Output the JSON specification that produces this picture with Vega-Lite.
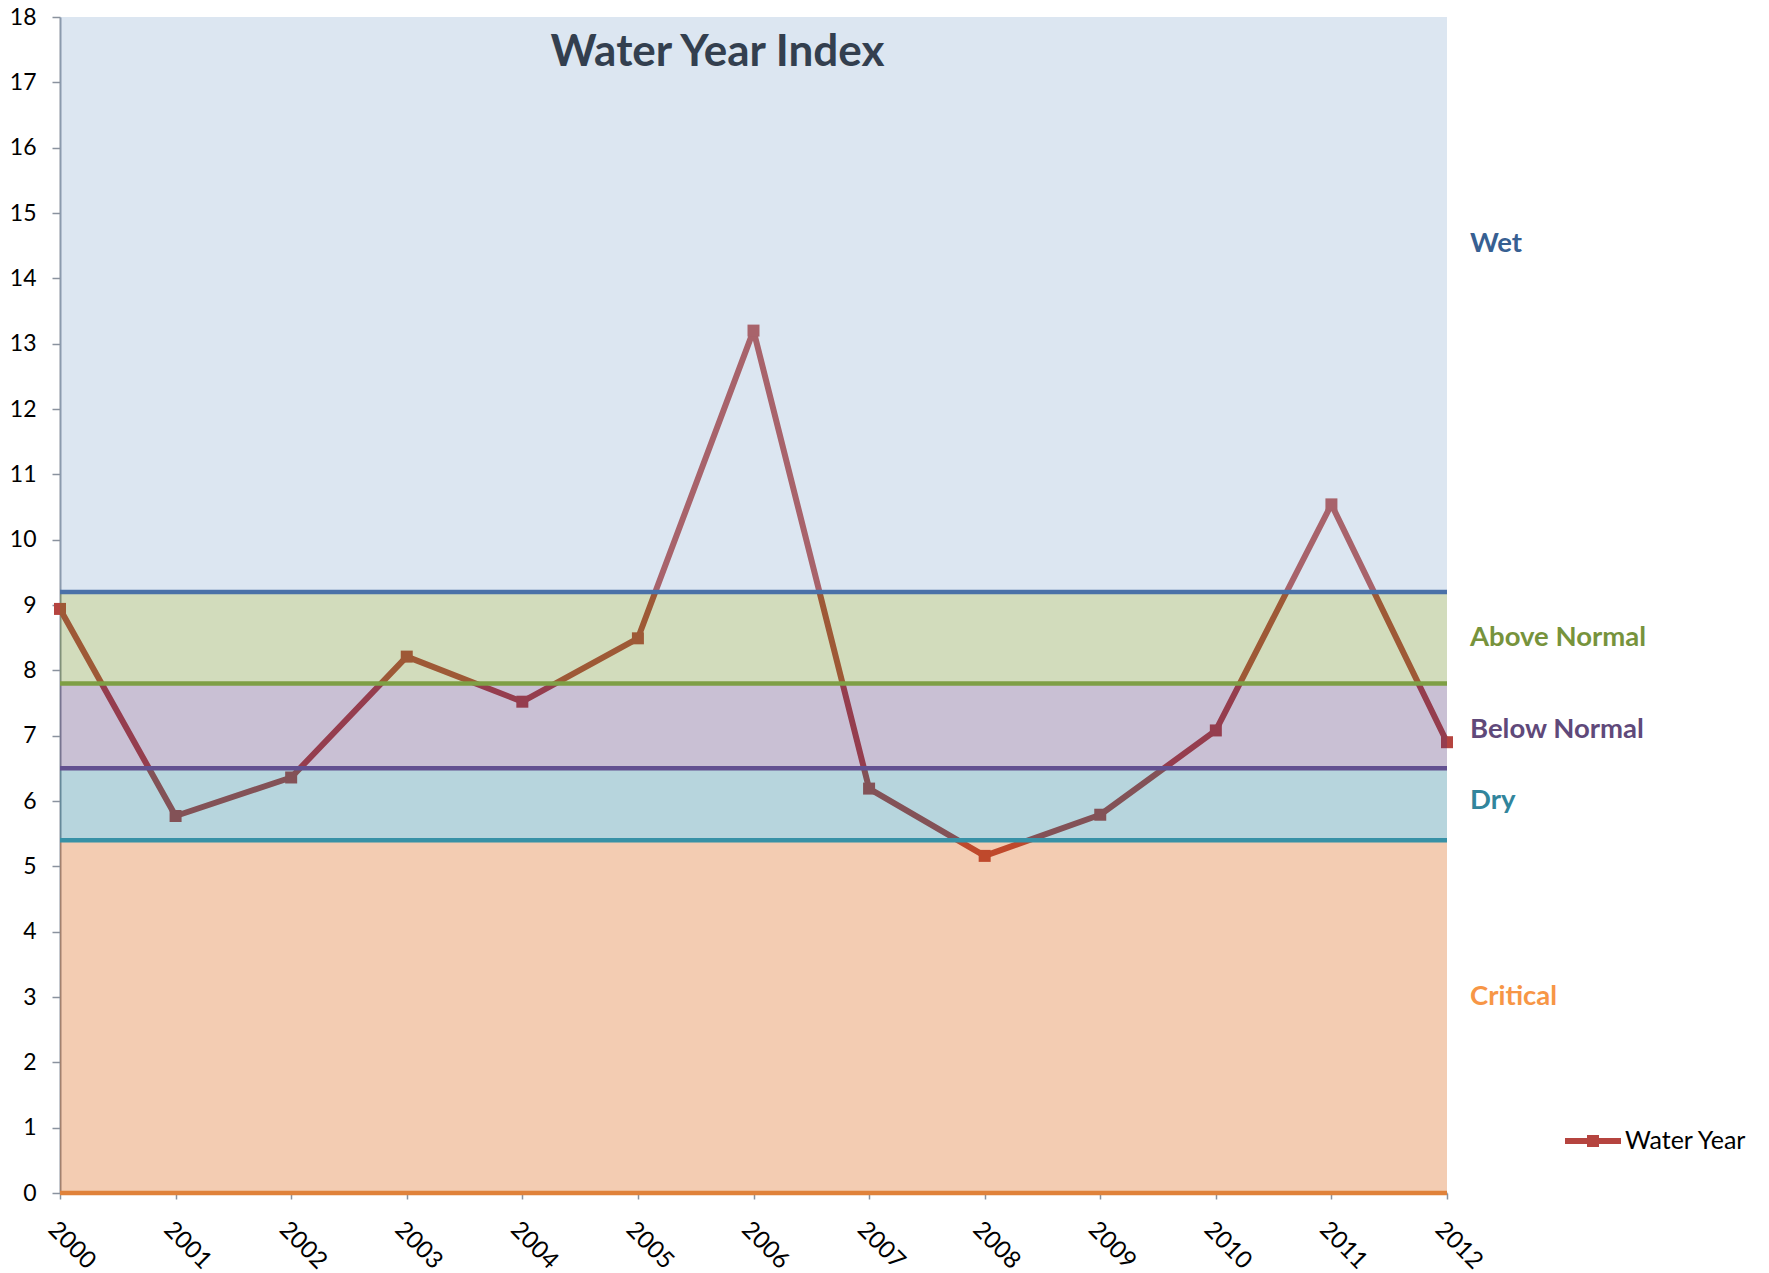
{
  "$schema": "https://vega.github.io/schema/vega-lite/v6.json",
  "width": 1387,
  "height": 1176,
  "autosize": {"type": "none"},
  "padding": {"left": 60, "top": 17, "right": 322, "bottom": 80},
  "background": "white",
  "config": {
    "font": "Lato",
    "view": {"stroke": null},
    "axisY": {"domainColor": "#8A929E", "domainWidth": 2, "tickColor": "#8A929E", "tickSize": 8, "tickWidth": 1.5, "labelFontSize": 23, "labelFont": "Lato", "labelPadding": 16, "labelColor": "#000000", "grid": false},
    "axisX": {"domainColor": "#8A929E", "domainWidth": 2, "tickColor": "#8A929E", "tickSize": 6, "tickWidth": 1.5, "labelFontSize": 24, "labelFont": "Lato", "labelAngle": 45, "labelAlign": "left", "labelBaseline": "top", "labelPadding": 18, "labelColor": "#000000", "grid": false}
  },
  "title": {"text": "Water Year Index", "fontSize": 44, "fontWeight": "bold", "font": "Lato", "color": "#333F4F", "anchor": "middle", "frame": "group", "dx": -36, "baseline": "alphabetic", "offset": -104},
  "datasets": {
    "series": [
      {"year": 2000, "index": 8.94},
      {"year": 2001, "index": 5.77},
      {"year": 2002, "index": 6.36},
      {"year": 2003, "index": 8.21},
      {"year": 2004, "index": 7.52},
      {"year": 2005, "index": 8.49},
      {"year": 2006, "index": 13.2},
      {"year": 2007, "index": 6.19},
      {"year": 2008, "index": 5.16},
      {"year": 2009, "index": 5.79},
      {"year": 2010, "index": 7.08},
      {"year": 2011, "index": 10.54},
      {"year": 2012, "index": 6.9}
    ],
    "bands": [
      {"name": "Wet", "lo": 9.2, "hi": 18, "labelAt": 14.4},
      {"name": "Above Normal", "lo": 7.8, "hi": 9.2, "labelAt": 8.38},
      {"name": "Below Normal", "lo": 6.5, "hi": 7.8, "labelAt": 6.97},
      {"name": "Dry", "lo": 5.4, "hi": 6.5, "labelAt": 5.87},
      {"name": "Critical", "lo": 0, "hi": 5.4, "labelAt": 2.88}
    ]
  },
  "layer": [
    {
      "data": {"name": "series"},
      "mark": {"type": "line", "strokeWidth": 6, "strokeJoin": "round"},
      "encoding": {
        "x": {"field": "year", "type": "quantitative", "scale": {"domain": [2000, 2012], "nice": false, "zero": false}, "axis": {"values": [2000, 2001, 2002, 2003, 2004, 2005, 2006, 2007, 2008, 2009, 2010, 2011, 2012], "format": "d"}, "title": null},
        "y": {"field": "index", "type": "quantitative", "scale": {"domain": [0, 18], "nice": false}, "axis": {"values": [0, 1, 2, 3, 4, 5, 6, 7, 8, 9, 10, 11, 12, 13, 14, 15, 16, 17, 18], "format": "d"}, "title": null},
        "color": {
          "datum": "Water Year", "type": "nominal",
          "scale": {"range": ["#B5443F"]},
          "legend": {
            "title": null, "orient": "none", "legendX": 1505, "legendY": 1096, "padding": 0,
            "symbolType": "M-1,-0.107H1V0.107H-1ZM-0.214,-0.214H0.214V0.214H-0.214Z",
            "symbolSize": 3136, "labelFontSize": 25, "labelFont": "Lato", "labelColor": "#000000", "labelOffset": 4,
            "encode": {"symbols": {"update": {"fill": {"value": "#B5443F"}, "stroke": {"value": "#B5443F"}, "strokeWidth": {"value": 0}, "opacity": {"value": 1}}}}
          }
        }
      }
    },
    {
      "data": {"name": "series"},
      "mark": {"type": "point", "shape": "square", "filled": true, "size": 144, "color": "#B5443F", "opacity": 1},
      "encoding": {
        "x": {"field": "year", "type": "quantitative", "title": null},
        "y": {"field": "index", "type": "quantitative", "title": null}
      }
    },
    {
      "data": {"name": "bands"},
      "mark": {"type": "rect", "fillOpacity": 0.3},
      "encoding": {
        "x": {"datum": 2000, "type": "quantitative", "title": null},
        "x2": {"datum": 2012},
        "y": {"field": "lo", "type": "quantitative", "title": null},
        "y2": {"field": "hi"},
        "fill": {"field": "name", "type": "nominal", "legend": null,
          "scale": {"domain": ["Wet", "Above Normal", "Below Normal", "Dry", "Critical"], "range": ["#8AACD0", "#698A20", "#4B3070", "#12738E", "#D75500"]}}
      }
    },
    {
      "data": {"name": "bands"},
      "mark": {"type": "rule", "strokeWidth": 4.5},
      "encoding": {
        "x": {"datum": 2000, "type": "quantitative", "title": null},
        "x2": {"datum": 2012},
        "y": {"field": "lo", "type": "quantitative", "title": null},
        "stroke": {"field": "name", "type": "nominal", "legend": null,
          "scale": {"domain": ["Wet", "Above Normal", "Below Normal", "Dry", "Critical"], "range": ["#4A71A8", "#7E9F45", "#625090", "#3791A6", "#E0823A"]}}
      }
    },
    {
      "data": {"name": "bands"},
      "mark": {"type": "text", "align": "left", "baseline": "alphabetic", "dx": 23, "fontSize": 27.5, "fontWeight": "bold", "font": "Lato"},
      "encoding": {
        "x": {"datum": 2012, "type": "quantitative", "title": null},
        "y": {"field": "labelAt", "type": "quantitative", "title": null},
        "text": {"field": "name", "type": "nominal"},
        "color": {"field": "name", "type": "nominal", "legend": null,
          "scale": {"domain": ["Wet", "Above Normal", "Below Normal", "Dry", "Critical"], "range": ["#376092", "#77933C", "#5F497A", "#31859C", "#F79646"]}}
      }
    }
  ],
  "resolve": {"scale": {"color": "independent", "fill": "independent", "stroke": "independent"}}
}
